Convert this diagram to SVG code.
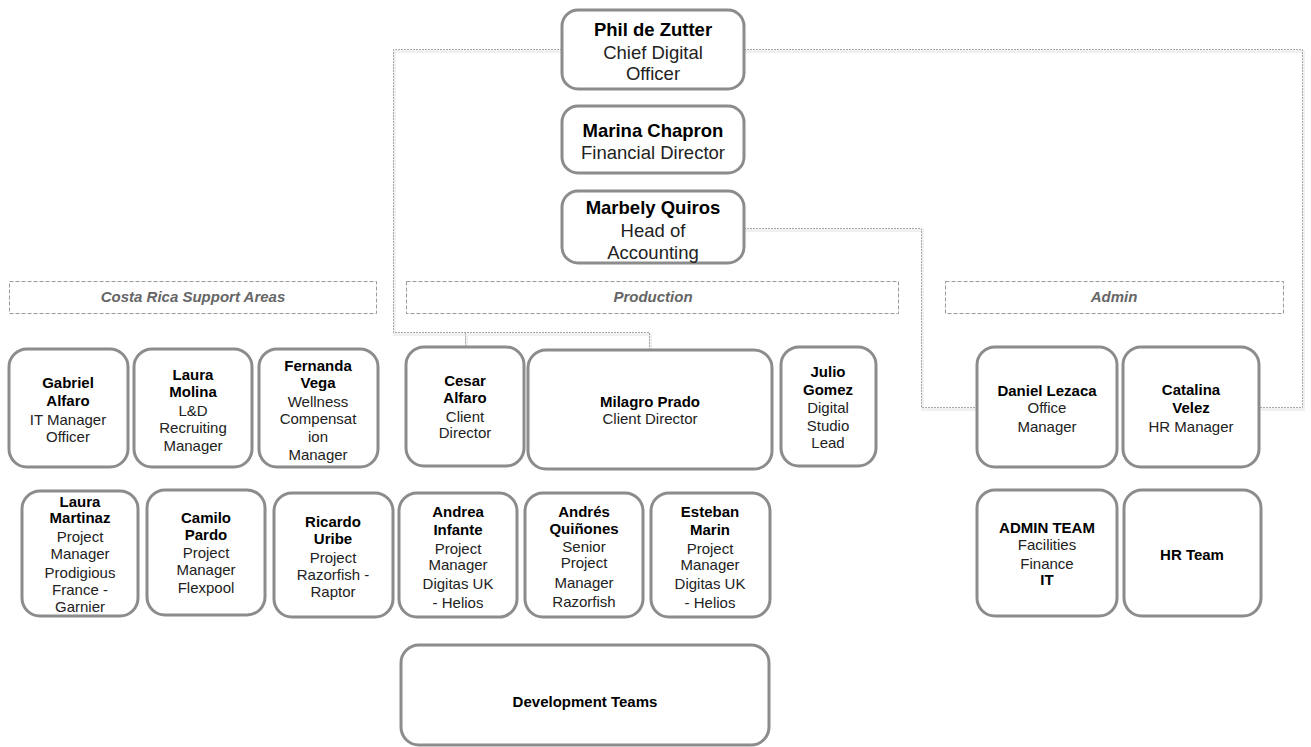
<svg xmlns="http://www.w3.org/2000/svg" width="1311" height="747" viewBox="0 0 1311 747">
  <style>
    .box { fill: #ffffff; stroke: #8c8c8c; stroke-width: 3; }
    .band { fill: none; stroke: #9a9a9a; stroke-width: 1; stroke-dasharray: 4 2; }
    .band-label { font-family: "Liberation Sans", Arial, sans-serif; font-size: 15px; font-weight: bold; font-style: italic; fill: #666666; text-anchor: middle; }
    .link { fill: none; stroke: #a8a8a8; stroke-width: 1; stroke-dasharray: 2 1; }
    .link-shadow { fill: none; stroke: #f0f0f0; stroke-width: 3; }
    text.t { font-family: "Liberation Sans", Arial, sans-serif; font-size: 15px; fill: #222222; text-anchor: middle; }
    text.big { font-size: 18.5px; }
    .b { font-weight: bold; fill: #000000; }
  </style>

  <rect width="1311" height="747" fill="#ffffff"/>

  <!-- section bands -->
  <g id="band-costa-rica">
    <rect class="band" x="9.5" y="281.5" width="367" height="32"/>
    <text class="band-label" x="193" y="302">Costa Rica Support Areas</text>
  </g>
  <g id="band-production">
    <rect class="band" x="406.5" y="281.5" width="492" height="32"/>
    <text class="band-label" x="653" y="302">Production</text>
  </g>
  <g id="band-admin">
    <rect class="band" x="945.5" y="281.5" width="338" height="32"/>
    <text class="band-label" x="1114" y="302">Admin</text>
  </g>

  <!-- reporting lines -->
  <g id="connectors">
    <g transform="translate(1,2)">
      <path class="link-shadow" d="M562 49.5 H393.5 V332.5 H649.5 V350"/>
      <path class="link-shadow" d="M465.5 332.5 V346"/>
      <path class="link-shadow" d="M744 49.5 H1302.5 V407.5 H1259"/>
      <path class="link-shadow" d="M744 228.5 H921.5 V407.5 H977"/>
    </g>
    <path class="link" d="M562 49.5 H393.5 V332.5 H649.5 V350"/>
    <path class="link" d="M465.5 332.5 V346"/>
    <path class="link" d="M744 49.5 H1302.5 V407.5 H1259"/>
    <path class="link" d="M744 228.5 H921.5 V407.5 H977"/>
  </g>

  <!-- leadership -->
  <g id="phil-de-zutter">
    <rect class="box" x="562" y="10" width="182" height="79" rx="16"/>
    <text class="t big"><tspan class="b" x="653" y="36">Phil de Zutter</tspan><tspan x="653" y="58.5">Chief Digital</tspan><tspan x="653" y="80">Officer</tspan></text>
  </g>
  <g id="marina-chapron">
    <rect class="box" x="562" y="106" width="182" height="67" rx="16"/>
    <text class="t big"><tspan class="b" x="653" y="137">Marina Chapron</tspan><tspan x="653" y="159">Financial Director</tspan></text>
  </g>
  <g id="marbely-quiros">
    <rect class="box" x="562" y="191" width="182" height="72" rx="16"/>
    <text class="t big"><tspan class="b" x="653" y="214">Marbely Quiros</tspan><tspan x="653" y="237">Head of</tspan><tspan x="653" y="259">Accounting</tspan></text>
  </g>

  <!-- Costa Rica support areas -->
  <g id="gabriel-alfaro">
    <rect class="box" x="9" y="349" width="119" height="118" rx="18"/>
    <text class="t"><tspan class="b" x="68" y="388">Gabriel</tspan><tspan class="b" x="68" y="406">Alfaro</tspan><tspan x="68" y="425">IT Manager</tspan><tspan x="68" y="442">Officer</tspan></text>
  </g>
  <g id="laura-molina">
    <rect class="box" x="134" y="349" width="118" height="118" rx="18"/>
    <text class="t"><tspan class="b" x="193" y="380">Laura</tspan><tspan class="b" x="193" y="397">Molina</tspan><tspan x="193" y="416">L&amp;D</tspan><tspan x="193" y="433">Recruiting</tspan><tspan x="193" y="451">Manager</tspan></text>
  </g>
  <g id="fernanda-vega">
    <rect class="box" x="259" y="349" width="119" height="118" rx="18"/>
    <text class="t"><tspan class="b" x="318" y="371">Fernanda</tspan><tspan class="b" x="318" y="388">Vega</tspan><tspan x="318" y="407">Wellness</tspan><tspan x="318" y="424">Compensat</tspan><tspan x="318" y="442">ion</tspan><tspan x="318" y="460">Manager</tspan></text>
  </g>
  <g id="laura-martinaz">
    <rect class="box" x="22" y="491" width="116" height="125" rx="18"/>
    <text class="t"><tspan class="b" x="80" y="507">Laura</tspan><tspan class="b" x="80" y="523">Martinaz</tspan><tspan x="80" y="542">Project</tspan><tspan x="80" y="559">Manager</tspan><tspan x="80" y="578">Prodigious</tspan><tspan x="80" y="595">France -</tspan><tspan x="80" y="612">Garnier</tspan></text>
  </g>
  <g id="camilo-pardo">
    <rect class="box" x="147" y="490" width="118" height="125" rx="18"/>
    <text class="t"><tspan class="b" x="206" y="523">Camilo</tspan><tspan class="b" x="206" y="540">Pardo</tspan><tspan x="206" y="558">Project</tspan><tspan x="206" y="575">Manager</tspan><tspan x="206" y="593">Flexpool</tspan></text>
  </g>
  <g id="ricardo-uribe">
    <rect class="box" x="274" y="493" width="119" height="124" rx="18"/>
    <text class="t"><tspan class="b" x="333" y="527">Ricardo</tspan><tspan class="b" x="333" y="544">Uribe</tspan><tspan x="333" y="563">Project</tspan><tspan x="333" y="580">Razorfish -</tspan><tspan x="333" y="597">Raptor</tspan></text>
  </g>

  <!-- production -->
  <g id="cesar-alfaro">
    <rect class="box" x="406" y="347" width="118" height="119" rx="18"/>
    <text class="t"><tspan class="b" x="465" y="386">Cesar</tspan><tspan class="b" x="465" y="403">Alfaro</tspan><tspan x="465" y="422">Client</tspan><tspan x="465" y="438">Director</tspan></text>
  </g>
  <g id="milagro-prado">
    <rect class="box" x="528" y="350" width="244" height="119" rx="18"/>
    <text class="t"><tspan class="b" x="650" y="407">Milagro Prado</tspan><tspan x="650" y="424">Client Director</tspan></text>
  </g>
  <g id="julio-gomez">
    <rect class="box" x="781" y="347" width="95" height="119" rx="18"/>
    <text class="t"><tspan class="b" x="828" y="377">Julio</tspan><tspan class="b" x="828" y="395">Gomez</tspan><tspan x="828" y="413">Digital</tspan><tspan x="828" y="431">Studio</tspan><tspan x="828" y="448">Lead</tspan></text>
  </g>
  <g id="andrea-infante">
    <rect class="box" x="399" y="493" width="118" height="124" rx="18"/>
    <text class="t"><tspan class="b" x="458" y="517">Andrea</tspan><tspan class="b" x="458" y="535">Infante</tspan><tspan x="458" y="554">Project</tspan><tspan x="458" y="570">Manager</tspan><tspan x="458" y="589">Digitas UK</tspan><tspan x="458" y="608">- Helios</tspan></text>
  </g>
  <g id="andres-quinones">
    <rect class="box" x="525" y="493" width="118" height="124" rx="18"/>
    <text class="t"><tspan class="b" x="584" y="517">Andrés</tspan><tspan class="b" x="584" y="534">Quiñones</tspan><tspan x="584" y="552">Senior</tspan><tspan x="584" y="568">Project</tspan><tspan x="584" y="588">Manager</tspan><tspan x="584" y="607">Razorfish</tspan></text>
  </g>
  <g id="esteban-marin">
    <rect class="box" x="651" y="493" width="119" height="124" rx="18"/>
    <text class="t"><tspan class="b" x="710" y="517">Esteban</tspan><tspan class="b" x="710" y="535">Marin</tspan><tspan x="710" y="554">Project</tspan><tspan x="710" y="570">Manager</tspan><tspan x="710" y="589">Digitas UK</tspan><tspan x="710" y="608">- Helios</tspan></text>
  </g>
  <g id="development-teams">
    <rect class="box" x="401" y="645" width="368" height="100" rx="18"/>
    <text class="t"><tspan class="b" x="585" y="707">Development Teams</tspan></text>
  </g>

  <!-- admin -->
  <g id="daniel-lezaca">
    <rect class="box" x="977" y="347" width="140" height="120" rx="18"/>
    <text class="t"><tspan class="b" x="1047" y="396">Daniel Lezaca</tspan><tspan x="1047" y="413">Office</tspan><tspan x="1047" y="432">Manager</tspan></text>
  </g>
  <g id="catalina-velez">
    <rect class="box" x="1123" y="347" width="136" height="120" rx="18"/>
    <text class="t"><tspan class="b" x="1191" y="395">Catalina</tspan><tspan class="b" x="1191" y="413">Velez</tspan><tspan x="1191" y="432">HR Manager</tspan></text>
  </g>
  <g id="admin-team">
    <rect class="box" x="977" y="490" width="140" height="126" rx="18"/>
    <text class="t"><tspan class="b" x="1047" y="533">ADMIN TEAM</tspan><tspan x="1047" y="550">Facilities</tspan><tspan x="1047" y="569">Finance</tspan><tspan class="b" x="1047" y="585">IT</tspan></text>
  </g>
  <g id="hr-team">
    <rect class="box" x="1124" y="490" width="137" height="126" rx="18"/>
    <text class="t"><tspan class="b" x="1192" y="560">HR Team</tspan></text>
  </g>
</svg>
